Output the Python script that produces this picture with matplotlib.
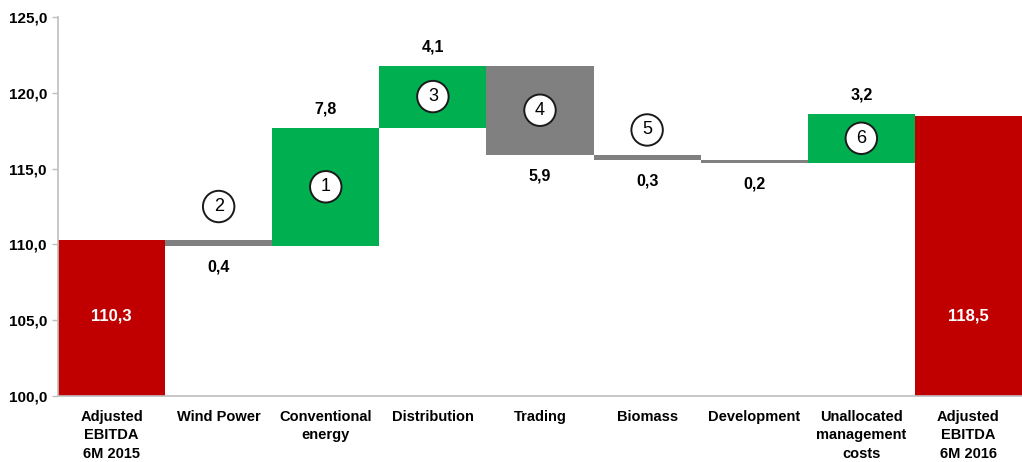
import matplotlib
matplotlib.use('Agg')
import numpy as np
from matplotlib import pyplot as plt
from matplotlib.ticker import FuncFormatter

plt.rcParams['font.family'] = ['Liberation Sans', 'DejaVu Sans']

categories = ['Adjusted\nEBITDA\n6M 2015', 'Wind Power', 'Conventional\nenergy', 'Distribution',
              'Trading', 'Biomass', 'Development', 'Unallocated\nmanagement\ncosts',
              'Adjusted\nEBITDA\n6M 2016']
start_value = 110.3
changes = [-0.4, 7.8, 4.1, -5.9, -0.3, -0.2, 3.2]
end_value = 118.5
circle_numbers = ['', '2', '1', '3', '4', '5', '', '6', '']

RED = '#C00000'
GREEN = '#00B050'
GREY = '#808080'

# build waterfall bottoms / tops
bottoms, tops, colors = [100.0], [start_value], [RED]
level = start_value
for c in changes:
    new = level + c
    bottoms.append(min(level, new))
    tops.append(max(level, new))
    colors.append(GREEN if c > 0 else GREY)
    level = new
bottoms.append(100.0)
tops.append(end_value)
colors.append(RED)
bottoms = np.array(bottoms)
tops = np.array(tops)
x = np.arange(len(categories))

fig = plt.figure(figsize=(10.22, 4.62), dpi=100)
ax = fig.add_axes([58 / 1022, 1 - 396 / 462, 1 - 58 / 1022, 379 / 462])
ax.bar(x, tops - bottoms, bottom=bottoms, width=1.0, color=colors, linewidth=0)

ax.set_xlim(-0.5, len(categories) - 0.5)
ax.set_ylim(100, 125)
ax.set_yticks(np.arange(100, 126, 5))
ax.yaxis.set_major_formatter(FuncFormatter(lambda v, p: f'{v:.1f}'.replace('.', ',')))
ax.set_xticks(x)
ax.set_xticklabels(categories, fontsize=10.5, fontweight='bold', va='top', linespacing=1.4)
ax.tick_params(axis='x', length=0, pad=10)
ax.tick_params(axis='y', length=4, width=1, color='#BFBFBF', labelsize=11, pad=4)
for t in ax.get_yticklabels():
    t.set_fontweight('bold')
for s in ['top', 'right']:
    ax.spines[s].set_visible(False)
for s in ['left', 'bottom']:
    ax.spines[s].set_color('#BFBFBF')
    ax.spines[s].set_linewidth(1.2)

fmt = lambda v: f'{abs(v):.1f}'.replace('.', ',')

# totals inside red bars
for i, v in [(0, start_value), (len(categories) - 1, end_value)]:
    ax.text(i, 105.3, fmt(v), color='white', fontsize=12, fontweight='bold', ha='center', va='center')

# change labels
for i, c in enumerate(changes, start=1):
    if c > 0:
        ax.annotate(fmt(c), (i, tops[i]), xytext=(0, 8), textcoords='offset points',
                    ha='center', va='bottom', fontsize=11.5, fontweight='bold')
    else:
        ax.annotate(fmt(c), (i, bottoms[i]), xytext=(0, -10), textcoords='offset points',
                    ha='center', va='top', fontsize=11.5, fontweight='bold')

# numbered circles
for i, n in enumerate(circle_numbers):
    if not n:
        continue
    if tops[i] - bottoms[i] > 1:
        xy, off = (i, (tops[i] + bottoms[i]) / 2), 0
    else:
        xy, off = (i, tops[i]), (24 if i == 1 else 18)
    ax.annotate(n, xy, xytext=(0, off), textcoords='offset points',
                ha='center', va='center', fontsize=13,
                bbox=dict(boxstyle='circle,pad=0.4', fc='white', ec='#1a1a1a', lw=1.4))

fig.savefig('out.png', dpi=100)
